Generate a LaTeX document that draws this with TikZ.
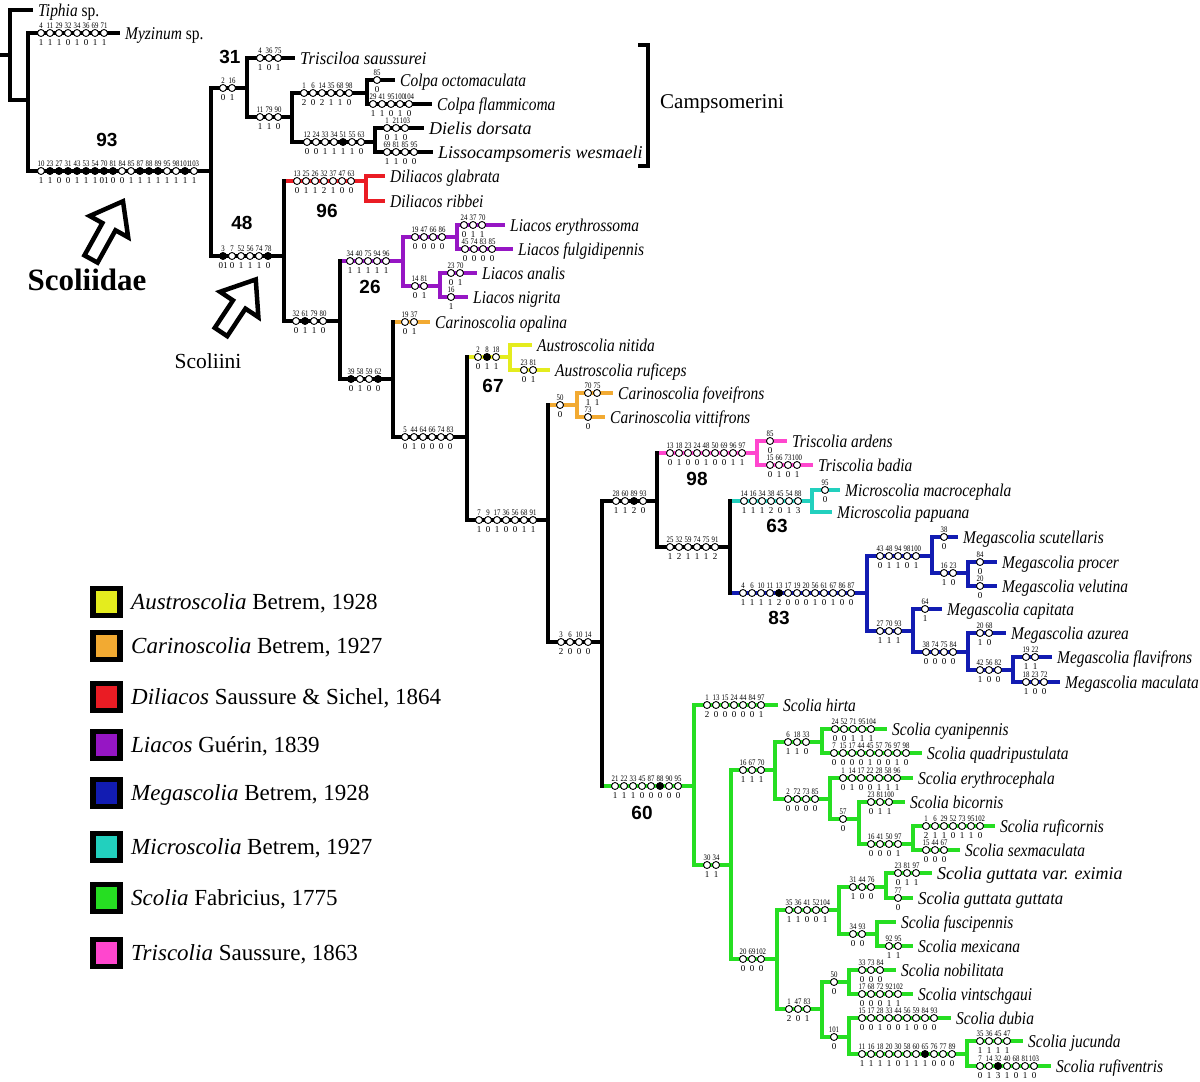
\documentclass[tikz,border=0pt]{standalone}
\usepackage{fontspec}
\setmainfont{Liberation Serif}
\setsansfont{Liberation Sans}
\newfontfamily\chfont{Liberation Serif}[FakeStretch=0.8]
\newfontfamily\taxfont{Liberation Serif}[FakeStretch=0.86]
\newfontfamily\midfont{Liberation Serif}[FakeStretch=0.93]
\usepackage{xcolor}
\usepackage{tikz}
\usetikzlibrary{calc}

\definecolor{austro}{RGB}{228,236,30}
\definecolor{carino}{RGB}{242,170,50}
\definecolor{dilia}{RGB}{234,28,36}
\definecolor{liacos}{RGB}{150,22,196}
\definecolor{mega}{RGB}{18,28,178}
\definecolor{micro}{RGB}{34,208,190}
\definecolor{scolia}{RGB}{38,222,34}
\definecolor{trisc}{RGB}{255,70,206}

\tikzset{
  br/.style={line width=4pt},
  vl/.style={line width=4pt, line cap=rect},
  chr/.style={circle, draw=black, fill=white, line width=0.9pt, inner sep=0pt, minimum size=7pt},
  num/.style={font=\chfont\fontsize{8.5}{8.5}\selectfont, inner sep=0pt, anchor=base},
  st/.style={font=\fontsize{9}{9}\selectfont, inner sep=0pt, anchor=north},
  taxon/.style={font=\taxfont\fontsize{18}{18}\selectfont\itshape, inner sep=0pt, anchor=base west},
  boot/.style={font=\sffamily\bfseries\fontsize{19}{19}\selectfont, inner sep=0pt},
  legbox/.style={draw=black, line width=5.5pt},
  legtxt/.style={font=\fontsize{23}{23}\selectfont, inner sep=0pt, anchor=base west},
  hollow/.style={draw=black, fill=white, line width=4.5pt, line join=miter}
}

% one row of characters on a branch: name, first x, y, number/state list
\newcommand{\chrow}[4]{%
  \foreach \nm/\sv [count=\i from 0] in {#4}{
    \node[chr] (#1-\i) at (#2+9*\i,#3) {};
    \node[num] (#1-a\i) at (#2+9*\i,#3-5) {\nm};
    \node[st] (#1-b\i) at (#2+9*\i,#3+6.5) {\sv};
  }%
}

\begin{document}
\begin{tikzpicture}[x=1pt,y=-1pt]
\fill[white] (0,0) rectangle (1200,1082);
\useasboundingbox (0,0) rectangle (1200,1082);

\coordinate (root) at (0,55);
\coordinate (n0) at (10,55);
\coordinate (tiph) at (33,10);
\coordinate (n1) at (28,100);
\coordinate (myz) at (120,33);
\coordinate (n93) at (211,171);
\coordinate (n31) at (247,88);
\coordinate (trsc) at (295,58);
\coordinate (n11) at (292,117);
\coordinate (ncol) at (367,93);
\coordinate (coloc) at (395,80);
\coordinate (colfl) at (432,104);
\coordinate (n12) at (375,142);
\coordinate (dield) at (424,128);
\coordinate (lissw) at (433,152);
\coordinate (n48) at (284,256);
\coordinate (n96) at (366,181);
\coordinate (digl) at (385,176);
\coordinate (diri) at (385,201);
\coordinate (n32) at (340,321);
\coordinate (n26) at (403,261);
\coordinate (n19) at (457,237);
\coordinate (liery) at (505,225);
\coordinate (liful) at (513,249);
\coordinate (n14) at (440,286);
\coordinate (liana) at (477,273);
\coordinate (linig) at (468,297);
\coordinate (n39) at (393,379);
\coordinate (caop) at (430,322);
\coordinate (n5) at (467,437);
\coordinate (n67) at (510,357);
\coordinate (aunit) at (532,345);
\coordinate (aurfc) at (550,370);
\coordinate (n7) at (548,520);
\coordinate (n50) at (577,405);
\coordinate (cafov) at (613,393);
\coordinate (cavit) at (605,417);
\coordinate (n3) at (602,642);
\coordinate (n28) at (657,501);
\coordinate (n98) at (757,453);
\coordinate (trard) at (787,441);
\coordinate (trbad) at (813,465);
\coordinate (n25) at (730,547);
\coordinate (n63) at (812,501);
\coordinate (mimac) at (840,490);
\coordinate (mipap) at (832,512);
\coordinate (n83) at (867,593);
\coordinate (n43) at (932,556);
\coordinate (mesct) at (958,537);
\coordinate (n16m) at (968,573);
\coordinate (mepro) at (997,562);
\coordinate (mevel) at (997,586);
\coordinate (n27) at (913,631);
\coordinate (mecap) at (942,609);
\coordinate (n38) at (968,652);
\coordinate (meazu) at (1006,633);
\coordinate (n42) at (1013,670);
\coordinate (mefla) at (1052,657);
\coordinate (memac) at (1060,682);
\coordinate (n60) at (694,786);
\coordinate (schir) at (778,705);
\coordinate (n30) at (731,865);
\coordinate (n16s) at (775,770);
\coordinate (n6) at (822,742);
\coordinate (sccya) at (887,729);
\coordinate (scqua) at (922,753);
\coordinate (n2) at (830,799);
\coordinate (scery) at (913,778);
\coordinate (n57) at (859,819);
\coordinate (scbic) at (905,802);
\coordinate (n41) at (913,844);
\coordinate (scruf) at (995,826);
\coordinate (scsex) at (960,850);
\coordinate (n20) at (777,959);
\coordinate (n35) at (839,910);
\coordinate (n31s) at (886,887);
\coordinate (scexi) at (932,873);
\coordinate (scgut) at (913,898);
\coordinate (n34) at (877,934);
\coordinate (scfus) at (896,922);
\coordinate (scmex) at (913,946);
\coordinate (n1s) at (822,1009);
\coordinate (n50s) at (849,982);
\coordinate (scnob) at (896,970);
\coordinate (scvin) at (913,994);
\coordinate (n101) at (849,1037);
\coordinate (scdub) at (951,1018);
\coordinate (n11s) at (967,1054);
\coordinate (scjuc) at (1023,1041);
\coordinate (scrfv) at (1051,1066);

% branches
\draw[br] (root) -- (n0);
\foreach \p/\c in {n0/tiph,n0/n1,n1/myz,n1/n93,n93/n31,n31/trsc,n31/n11,n11/ncol,ncol/coloc,ncol/colfl,n11/n12,n12/dield,n12/lissw,n93/n48,n48/n32,n32/n39,n39/n5,n5/n7,n7/n3,n3/n28,n28/n25}
  \draw[br] (\p |- \c) -- (\c);
\foreach \p/\c in {n48/n96,n96/digl,n96/diri}
  \draw[br,dilia] (\p |- \c) -- (\c);
\foreach \p/\c in {n32/n26,n26/n19,n19/liery,n19/liful,n26/n14,n14/liana,n14/linig}
  \draw[br,liacos] (\p |- \c) -- (\c);
\foreach \p/\c in {n39/caop,n7/n50,n50/cafov,n50/cavit}
  \draw[br,carino] (\p |- \c) -- (\c);
\foreach \p/\c in {n5/n67,n67/aunit,n67/aurfc}
  \draw[br,austro] (\p |- \c) -- (\c);
\foreach \p/\c in {n28/n98,n98/trard,n98/trbad}
  \draw[br,trisc] (\p |- \c) -- (\c);
\foreach \p/\c in {n25/n63,n63/mimac,n63/mipap}
  \draw[br,micro] (\p |- \c) -- (\c);
\foreach \p/\c in {n25/n83,n83/n43,n43/mesct,n43/n16m,n16m/mepro,n16m/mevel,n83/n27,n27/mecap,n27/n38,n38/meazu,n38/n42,n42/mefla,n42/memac}
  \draw[br,mega] (\p |- \c) -- (\c);
\foreach \p/\c in {n3/n60,n60/schir,n60/n30,n30/n16s,n16s/n6,n6/sccya,n6/scqua,n16s/n2,n2/scery,n2/n57,n57/scbic,n57/n41,n41/scruf,n41/scsex,n30/n20,n20/n35,n35/n31s,n31s/scexi,n31s/scgut,n35/n34,n34/scfus,n34/scmex,n20/n1s,n1s/n50s,n50s/scnob,n50s/scvin,n1s/n101,n101/scdub,n101/n11s,n11s/scjuc,n11s/scrfv}
  \draw[br,scolia] (\p |- \c) -- (\c);

% verticals
\foreach \p/\a/\b in {n0/tiph/n1,n1/myz/n93,n93/n31/n48,n31/trsc/n11,n11/ncol/n12,ncol/coloc/colfl,n12/dield/lissw,n48/n96/n32,n32/n26/n39,n39/caop/n5,n5/n67/n7,n7/n50/n3,n3/n28/n60,n28/n98/n25,n25/n63/n83}
  \draw[vl] (\p |- \a) -- (\p |- \b);
\draw[vl,dilia] (n96 |- digl) -- (n96 |- diri);
\foreach \p/\a/\b in {n26/n19/n14,n19/liery/liful,n14/liana/linig}
  \draw[vl,liacos] (\p |- \a) -- (\p |- \b);
\draw[vl,carino] (n50 |- cafov) -- (n50 |- cavit);
\draw[vl,austro] (n67 |- aunit) -- (n67 |- aurfc);
\draw[vl,trisc] (n98 |- trard) -- (n98 |- trbad);
\draw[vl,micro] (n63 |- mimac) -- (n63 |- mipap);
\foreach \p/\a/\b in {n83/n43/n27,n43/mesct/n16m,n16m/mepro/mevel,n27/mecap/n38,n38/meazu/n42,n42/mefla/memac}
  \draw[vl,mega] (\p |- \a) -- (\p |- \b);
\foreach \p/\a/\b in {n60/schir/n30,n30/n16s/n20,n16s/n6/n2,n6/sccya/scqua,n2/scery/n57,n57/scbic/n41,n41/scruf/scsex,n20/n35/n1s,n35/n31s/n34,n31s/scexi/scgut,n34/scfus/scmex,n1s/n50s/n101,n50s/scnob/scvin,n101/scdub/n11s,n11s/scjuc/scrfv}
  \draw[vl,scolia] (\p |- \a) -- (\p |- \b);

% characters
\chrow{myz}{41}{33}{4/1,11/1,29/1,32/0,34/1,36/0,69/1,71/1}
\chrow{n93}{41}{171}{10/1,23/1,27/0,31/0,43/1,53/1,54/1,70/01,81/0,84/0,85/1,87/1,88/1,89/1,95/1,98/1,101/1,103/1}
\chrow{n31}{223}{88}{2/0,16/1}
\chrow{trsc}{260}{58}{4/1,36/0,75/1}
\chrow{n11}{260}{117}{11/1,79/1,90/0}
\chrow{ncol}{304}{93}{1/2,6/0,14/2,35/1,68/1,98/0}
\chrow{coloc}{377}{80}{85/0}
\chrow{colfl}{373}{104}{29/1,41/1,95/0,100/1,104/0}
\chrow{n12}{307}{142}{12/0,24/0,33/1,34/1,51/1,55/1,63/0}
\chrow{dield}{387}{128}{1/0,21/1,103/0}
\chrow{lissw}{387}{152}{69/1,81/1,85/0,95/0}
\chrow{n48}{223}{256}{3/01,7/0,52/1,56/1,74/1,78/0}
\chrow{n96}{297}{181}{13/0,25/1,26/1,32/2,37/1,47/0,63/0}
\chrow{n32}{296}{321}{32/0,61/1,79/1,80/0}
\chrow{n26}{350}{261}{34/1,40/1,75/1,94/1,96/1}
\chrow{n19}{415}{237}{19/0,47/0,66/0,86/0}
\chrow{liery}{464}{225}{24/0,37/1,70/1}
\chrow{liful}{465}{249}{45/0,74/0,83/0,85/0}
\chrow{n14}{415}{286}{14/0,81/1}
\chrow{liana}{451}{273}{23/0,70/1}
\chrow{linig}{451}{297}{16/1}
\chrow{n39}{351}{379}{39/0,58/1,59/0,62/0}
\chrow{caop}{405}{322}{19/0,37/1}
\chrow{n5}{405}{437}{5/0,44/1,64/0,66/0,74/0,83/0}
\chrow{n67}{478}{357}{2/0,8/1,18/1}
\chrow{aurfc}{524}{370}{23/0,81/1}
\chrow{n7}{479}{520}{7/1,9/0,17/1,36/0,56/0,68/1,91/1}
\chrow{n50}{560}{405}{50/0}
\chrow{cafov}{588}{393}{70/1,75/1}
\chrow{cavit}{588}{417}{73/0}
\chrow{n3}{561}{642}{3/2,6/0,10/0,14/0}
\chrow{n28}{616}{501}{28/1,60/1,89/2,93/0}
\chrow{n98}{670}{453}{13/0,18/1,23/0,24/0,48/1,50/0,69/0,96/1,97/1}
\chrow{trard}{770}{441}{85/0}
\chrow{trbad}{770}{465}{15/0,66/1,73/0,100/1}
\chrow{n25}{670}{547}{25/1,32/2,59/1,74/1,75/1,91/2}
\chrow{n63}{744}{501}{14/1,16/1,34/1,38/2,45/0,54/1,88/3}
\chrow{mimac}{825}{490}{95/0}
\chrow{n83}{743}{593}{4/1,6/1,10/1,11/1,13/2,17/0,19/0,20/0,56/1,61/0,67/1,86/0,87/0}
\chrow{n43}{880}{556}{43/0,48/1,94/1,98/0,100/1}
\chrow{mesct}{944}{537}{38/0}
\chrow{n16m}{944}{573}{16/1,23/0}
\chrow{mepro}{980}{562}{84/0}
\chrow{mevel}{980}{586}{20/0}
\chrow{n27}{880}{631}{27/1,70/1,93/1}
\chrow{mecap}{925}{609}{64/1}
\chrow{n38}{926}{652}{38/0,74/0,75/0,84/0}
\chrow{meazu}{980}{633}{20/1,68/0}
\chrow{n42}{980}{670}{42/1,56/0,82/0}
\chrow{mefla}{1026}{657}{19/1,22/1}
\chrow{memac}{1026}{682}{18/1,23/0,72/0}
\chrow{n60}{615}{786}{21/1,22/1,33/1,45/0,87/0,88/0,90/0,95/0}
\chrow{schir}{707}{705}{1/2,13/0,15/0,24/0,44/0,84/0,97/1}
\chrow{n30}{707}{865}{30/1,34/1}
\chrow{n16s}{743}{770}{16/1,67/1,70/1}
\chrow{n6}{788}{742}{6/1,18/1,33/0}
\chrow{sccya}{835}{729}{24/0,52/0,71/1,95/1,104/1}
\chrow{scqua}{834}{753}{7/0,15/0,17/0,44/0,45/1,57/0,76/0,97/1,98/0}
\chrow{n2}{788}{799}{2/0,72/0,73/0,85/0}
\chrow{scery}{843}{778}{1/0,14/1,17/0,22/0,28/1,58/1,96/1}
\chrow{n57}{843}{819}{57/0}
\chrow{scbic}{871}{802}{23/0,81/1,100/1}
\chrow{n41}{871}{844}{16/0,41/0,50/0,97/1}
\chrow{scruf}{926}{826}{1/2,6/1,29/1,52/0,73/1,95/1,102/0}
\chrow{scsex}{926}{850}{15/0,44/0,67/0}
\chrow{n20}{743}{959}{20/0,69/0,102/0}
\chrow{n35}{789}{910}{35/1,36/1,41/0,52/0,104/1}
\chrow{n31s}{853}{887}{31/1,44/0,76/0}
\chrow{scexi}{898}{873}{23/0,81/1,97/1}
\chrow{scgut}{898}{898}{77/0}
\chrow{n34}{853}{934}{34/0,93/0}
\chrow{scmex}{889}{946}{92/1,95/1}
\chrow{n1s}{789}{1009}{1/2,47/0,83/1}
\chrow{n50s}{834}{982}{50/0}
\chrow{scnob}{862}{970}{33/0,73/0,84/0}
\chrow{scvin}{862}{994}{17/0,68/0,72/0,92/1,102/1}
\chrow{n101}{834}{1037}{101/0}
\chrow{scdub}{862}{1018}{15/0,17/0,28/1,33/0,44/0,56/1,59/0,84/0,93/0}
\chrow{n11s}{862}{1054}{11/1,16/1,18/1,20/1,30/0,58/1,60/1,65/1,76/0,77/0,89/0}
\chrow{scjuc}{980}{1041}{35/1,36/1,45/1,47/1}
\chrow{scrfv}{980}{1066}{7/0,14/1,32/3,40/1,68/0,81/1,103/0}

% filled circles
\foreach \m in {n93-1,n93-2,n93-3,n93-4,n93-5,n93-6,n93-7,n93-8,n93-11,n93-12,n93-13,n93-16,n12-4,n48-0,n48-5,n32-1,n39-0,n39-3,n67-1,n28-2,n83-4,n60-5,n11s-7,scrfv-2}
  \fill[black] (\m) circle (3.5);

% taxa
\foreach \t/\l in {tiph/{Tiphia \upshape sp.},myz/{Myzinum \upshape sp.},trsc/{\midfont Trisciloa saussurei},coloc/Colpa octomaculata,colfl/Colpa flammicoma,dield/{\rmfamily Dielis dorsata},lissw/{\rmfamily Lissocampsomeris wesmaeli},digl/Diliacos glabrata,diri/Diliacos ribbei,liery/Liacos erythrossoma,liful/Liacos fulgidipennis,liana/Liacos analis,linig/Liacos nigrita,caop/Carinoscolia opalina,aunit/Austroscolia nitida,aurfc/Austroscolia ruficeps,cafov/Carinoscolia foveifrons,cavit/Carinoscolia vittifrons,trard/Triscolia ardens,trbad/Triscolia badia,mimac/Microscolia macrocephala,mipap/Microscolia papuana,mesct/Megascolia scutellaris,mepro/Megascolia procer,mevel/Megascolia velutina,mecap/Megascolia capitata,meazu/Megascolia azurea,mefla/Megascolia flavifrons,memac/Megascolia maculata,schir/Scolia hirta,sccya/Scolia cyanipennis,scqua/Scolia quadripustulata,scery/Scolia erythrocephala,scbic/Scolia bicornis,scruf/Scolia ruficornis,scsex/Scolia sexmaculata,scexi/{\rmfamily Scolia guttata var. eximia},scgut/{\midfont Scolia guttata guttata},scfus/Scolia fuscipennis,scmex/Scolia mexicana,scnob/Scolia nobilitata,scvin/Scolia vintschgaui,scdub/Scolia dubia,scjuc/Scolia jucunda,scrfv/Scolia rufiventris}
  \node[taxon] (l-\t) at ($(\t)+(5,6)$) {\l};

% support values
\node[boot] (b93) at (107,140) {93};
\node[boot] (b31) at (230,57) {31};
\node[boot] (b48) at (242,223) {48};
\node[boot] (b96) at (327,211) {96};
\node[boot] (b26) at (370,287) {26};
\node[boot] (b67) at (493,386) {67};
\node[boot] (b98) at (697,479) {98};
\node[boot] (b63) at (777,526) {63};
\node[boot] (b83) at (779,618) {83};
\node[boot] (b60) at (642,813) {60};

% Campsomerini
\draw[line width=4.5pt] (638,45) -- (648,45) -- (648,166) -- (638,166);
\node[anchor=west, inner sep=0pt, font=\fontsize{21}{21}\selectfont] (camp) at (660,104) {Campsomerini};

% arrows
\begin{scope}[shift={(91,259)}, rotate=61]
  \draw[hollow] (0,-7.5) -- (37,-7.5) -- (37,-22) -- (66,0) -- (37,22) -- (37,7.5) -- (0,7.5) -- cycle;
\end{scope}
\node[font=\bfseries\fontsize{31}{31}\selectfont, inner sep=0pt] (scoliidae) at (87,280) {Scoliidae};
\begin{scope}[shift={(221,332)}, rotate=56.5]
  \draw[hollow] (0,-7.5) -- (33,-7.5) -- (33,-23) -- (63,0) -- (33,23) -- (33,7.5) -- (0,7.5) -- cycle;
\end{scope}
\node[font=\fontsize{21.5}{21.5}\selectfont, inner sep=0pt] (scoliini) at (208,361) {Scoliini};

% legend
\foreach \c/\g/\a/\yy in {austro/Austroscolia/{Betrem, 1928}/602,carino/Carinoscolia/{Betrem, 1927}/646,dilia/Diliacos/{Saussure \& Sichel, 1864}/697,liacos/Liacos/{Guérin, 1839}/745,mega/Megascolia/{Betrem, 1928}/793,micro/Microscolia/{Betrem, 1927}/847,scolia/Scolia/{Fabricius, 1775}/898,trisc/Triscolia/{Saussure, 1863}/953}{
  \draw[legbox,fill=\c] (93,\yy-13.5) rectangle (120,\yy+13.5);
  \node[legtxt] (g-\c) at (131,\yy+7) {\textit{\g} \a};
}
\end{tikzpicture}
\end{document}
